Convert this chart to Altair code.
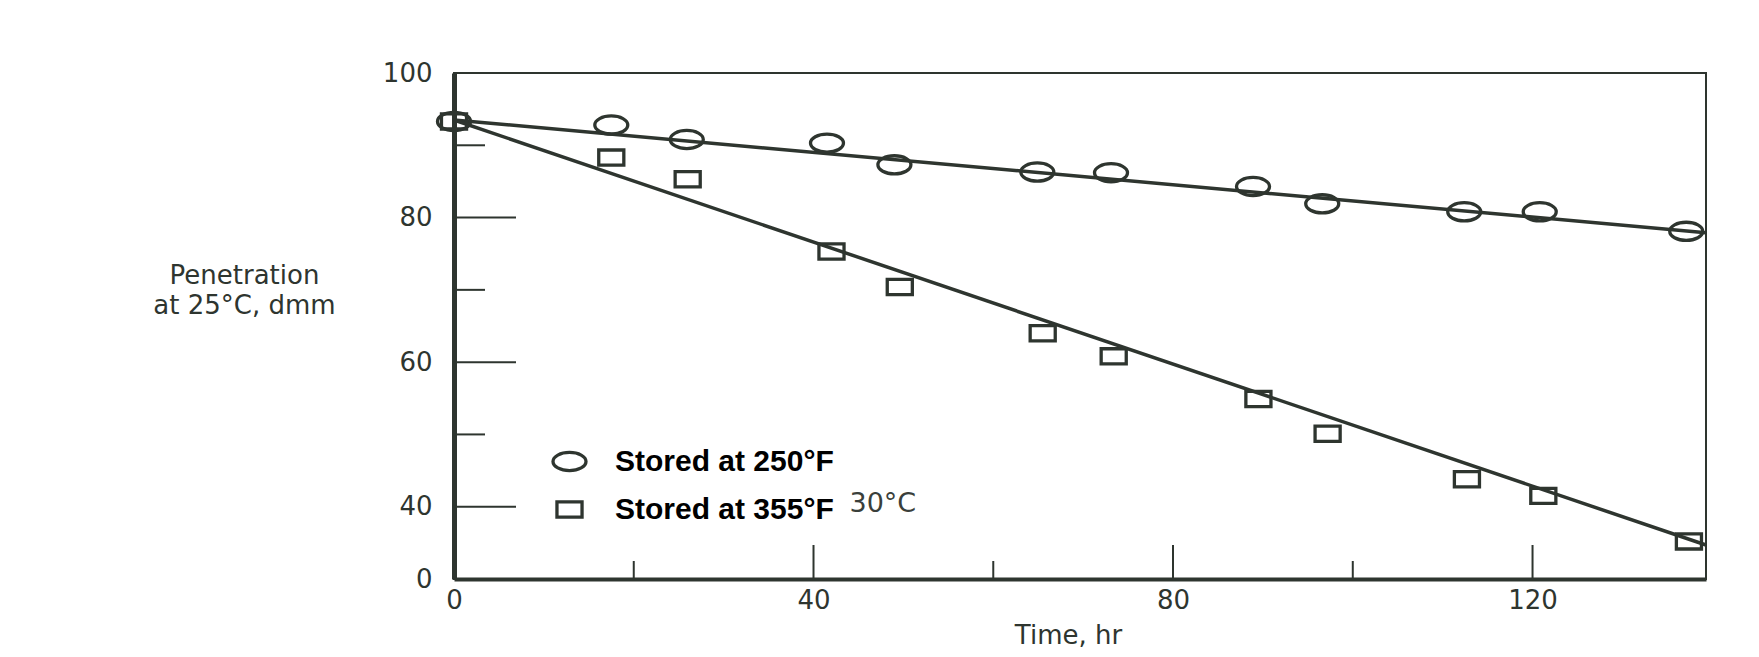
import altair as alt
import pandas as pd

# ---- data ----
series = ["Stored at 250°F", "Stored at 355°F"]

time_250 = [0, 17.5, 25.9, 41.5, 49.0, 64.9, 73.1, 88.9, 96.6, 112.4, 120.8, 137.1]
pen_250 = [93.3, 92.8, 90.8, 90.3, 87.3, 86.3, 86.2, 84.3, 81.9, 80.8, 80.8, 78.1]

time_355 = [0, 17.5, 26.0, 42.0, 49.6, 65.5, 73.4, 89.5, 97.2, 112.7, 121.2, 137.4]
pen_355 = [93.3, 88.3, 85.3, 75.3, 70.4, 64.0, 60.8, 54.9, 50.1, 43.8, 41.5, 35.2]

fit_time = [0, 139.3]
fit_250 = [93.5, 77.9]
fit_355 = [93.5, 34.7]

x_label_values = [0, 40, 80, 120]
x_major_ticks = [40, 80, 120]
x_minor_ticks = [20, 60, 100]
y_label_values = [30, 40, 60, 80, 100]   # broken axis: 30 is printed as "0"
y_major_ticks = [40, 60, 80]
y_minor_ticks = [50, 70, 90]

note_text = ["30°C"]
note_time = [44.0]
note_pen = [39.3]

# ---- tables ----
pts = pd.DataFrame({
    "time": time_250 + time_355,
    "pen": pen_250 + pen_355,
    "series": [series[0]] * len(time_250) + [series[1]] * len(time_355),
})
fits = pd.DataFrame({
    "time": fit_time + fit_time,
    "pen": fit_250 + fit_355,
    "series": [series[0]] * 2 + [series[1]] * 2,
})
xmaj = pd.DataFrame({"time": x_major_ticks})
xmin = pd.DataFrame({"time": x_minor_ticks})
ymaj = pd.DataFrame({"pen": y_major_ticks})
ymin = pd.DataFrame({"pen": y_minor_ticks})
note = pd.DataFrame({"time": note_time, "pen": note_pen, "text": note_text})

INK = "#2e352f"
W, H = 1252, 506
FONT = "DejaVu Sans"

xs = alt.Scale(domain=[0, 139.3], nice=False, zero=False)
ys = alt.Scale(domain=[30, 100], nice=False, zero=False)

ellipse = "M-1,0A1,0.55,0,1,1,1,0A1,0.55,0,1,1,-1,0Z"
rect = "M-0.76,-0.46L0.76,-0.46L0.76,0.46L-0.76,0.46Z"

x_axis = alt.Axis(
    values=x_label_values, ticks=False, tickSize=0, grid=False,
    domainColor=INK, domainWidth=4, labelFlush=False,
    labelFont=FONT, labelFontSize=26, labelColor=INK, labelPadding=8,
    title="Time, hr", titleFont=FONT, titleFontSize=26, titleFontWeight="normal",
    titleColor=INK, titleX=614, titleY=64, titleAlign="center", titleBaseline="alphabetic",
)
y_axis = alt.Axis(
    values=y_label_values, ticks=False, tickSize=0, grid=False,
    labelExpr="datum.value == 30 ? '0' : datum.label",
    domainColor=INK, domainWidth=5, labelFlush=False,
    labelFont=FONT, labelFontSize=26, labelColor=INK, labelPadding=22,
    title=["Penetration", "at 25°C, dmm"], titleFont=FONT, titleFontSize=26,
    titleFontWeight="normal", titleColor=INK, titleAngle=0, titleX=-210, titleY=210,
    titleAlign="center", titleBaseline="alphabetic", titleLineHeight=30,
)

X = alt.X("time:Q", scale=xs, axis=x_axis)
Y = alt.Y("pen:Q", scale=ys, axis=y_axis)

lines = alt.Chart(fits).mark_line(color=INK, strokeWidth=3.5).encode(
    x=X, y=Y, detail="series:N",
)

points = alt.Chart(pts).mark_point(filled=False, strokeWidth=3.3, size=1089, color=INK, opacity=1).encode(
    x=X, y=Y,
    shape=alt.Shape(
        "series:N",
        scale=alt.Scale(domain=series, range=[ellipse, rect]),
        legend=alt.Legend(
            title=None, orient="none", legendX=97, legendY=370, direction="vertical",
            padding=0, labelFont="Liberation Sans", labelFontWeight="bold",
            labelFontSize=30, labelColor="black", labelOffset=27, rowPadding=13,
            symbolSize=1089, symbolStrokeWidth=3.3, symbolStrokeColor=INK,
            symbolFillColor="transparent", symbolOpacity=1, labelLimit=400,
        ),
    ),
)

def xticks(df, length):
    return alt.Chart(df).mark_rule(color=INK, strokeWidth=2).encode(
        x=X, y=alt.value(H), y2=alt.value(H - length),
    )

def yticks(df, length):
    return alt.Chart(df).mark_rule(color=INK, strokeWidth=2).encode(
        y=Y, x=alt.value(0), x2=alt.value(length),
    )

note_layer = alt.Chart(note).mark_text(
    align="left", baseline="alphabetic", font=FONT, fontSize=27, color="#3a3f3b"
).encode(x=X, y=Y, text="text:N")

chart = alt.layer(
    lines, points,
    xticks(xmaj, 34), xticks(xmin, 18), yticks(ymaj, 62), yticks(ymin, 31),
    note_layer,
).properties(
    width=W, height=H,
    padding={"left": 446, "top": 65, "right": 45, "bottom": 70},
    autosize=alt.AutoSizeParams(type="none"),
    background="white",
).configure_view(
    stroke=INK, strokeWidth=2,
)

chart.save("out.html", embed_options={"renderer": "svg", "actions": False})
